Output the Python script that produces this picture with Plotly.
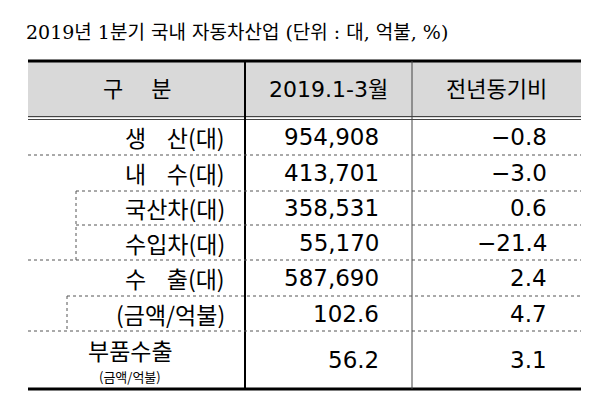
import plotly.graph_objects as go

title = "2019년 1분기 국내 자동차산업 (단위 : 대, 억불, %)"
headers = ["구    분", "2019.1-3월", "전년동기비"]
labels = ["생    산(대)", "내    수(대)", "국산차(대)", "수입차(대)", "수    출(대)", "(금액/억불)", "부품수출"]
values = ["954,908", "413,701", "358,531", "55,170", "587,690", "102.6", "56.2"]
changes = ["-0.8", "-3.0", "0.6", "-21.4", "2.4", "4.7", "3.1"]
# left edge of each row's dotted top line (indent for sub rows)
row_indent = [20, 20, 68, 68, 20, 59, 20]

FONT = "DejaVu Sans, Noto Sans CJK KR"
KFONT = "Noto Sans CJK KR"
L, C1, C2, R = 20, 237, 404, 573
TOP, HEAD = 53, 110
row_tops = [110, 147, 183, 217, 252, 288, 323]
BOTTOM = 381

fig = go.Figure()
shapes = []
ann = []

# header fill
shapes.append(dict(type="rect", x0=L, x1=R, y0=TOP, y1=HEAD, fillcolor="#d9d9d9", line=dict(width=0), layer="below"))
# top / bottom thick lines
shapes.append(dict(type="line", x0=L, x1=R, y0=TOP, y1=TOP, line=dict(color="black", width=3)))
shapes.append(dict(type="line", x0=L, x1=R, y0=BOTTOM, y1=BOTTOM, line=dict(color="black", width=3)))
# header double line
for y in (HEAD - 1.5, HEAD + 1.5):
    shapes.append(dict(type="line", x0=L, x1=R, y0=y, y1=y, line=dict(color="#444", width=1)))
# column dividers
shapes.append(dict(type="line", x0=C1, x1=C1, y0=TOP, y1=BOTTOM, line=dict(color="black", width=2)))
shapes.append(dict(type="line", x0=C2, x1=C2, y0=TOP, y1=BOTTOM, line=dict(color="#444", width=1)))
# dotted row lines
for i in range(1, len(row_tops)):
    shapes.append(dict(type="line", x0=row_indent[i], x1=R, y0=row_tops[i], y1=row_tops[i],
                       line=dict(color="#555", width=1, dash="dot")))
# dotted vertical indents
shapes.append(dict(type="line", x0=68, x1=68, y0=row_tops[2], y1=row_tops[4], line=dict(color="#555", width=1, dash="dot")))
shapes.append(dict(type="line", x0=59, x1=59, y0=row_tops[5], y1=row_tops[6], line=dict(color="#555", width=1, dash="dot")))

ann.append(dict(x=16, y=24, text=title, xanchor="left", font=dict(family="DejaVu Serif, " + KFONT, size=19)))
hx = [(L + C1) / 2, (C1 + C2) / 2, (C2 + R) / 2]
for x, h in zip(hx, headers):
    ann.append(dict(x=x, y=(TOP + HEAD) / 2, text=h, xanchor="center", font=dict(family=FONT, size=22)))

bottoms = row_tops[1:] + [BOTTOM]
for i, (lab, v, c) in enumerate(zip(labels, values, changes)):
    ym = (row_tops[i] + bottoms[i]) / 2
    if i == len(labels) - 1:
        ann.append(dict(x=122, y=ym - 10, text=lab, xanchor="center", font=dict(family=KFONT, size=23)))
        ann.append(dict(x=122, y=ym + 16, text="(금액/억불)", xanchor="center", font=dict(family=KFONT, size=13)))
    else:
        ann.append(dict(x=219, y=ym, text=lab, xanchor="right", font=dict(family=KFONT, size=23)))
    ann.append(dict(x=373, y=ym, text=v, xanchor="right", font=dict(family=FONT, size=23)))
    ann.append(dict(x=541, y=ym, text=c.replace("-", "−"), xanchor="right", font=dict(family=FONT, size=23)))

for a in ann:
    a.update(xref="x", yref="y", showarrow=False, yanchor="middle")
    a["font"]["color"] = "black"

fig.update_layout(
    width=600, height=402, margin=dict(l=0, r=0, t=0, b=0),
    plot_bgcolor="white", paper_bgcolor="white",
    shapes=shapes, annotations=ann,
    xaxis=dict(range=[0, 600], visible=False, fixedrange=True),
    yaxis=dict(range=[402, 0], visible=False, fixedrange=True),
    showlegend=False,
)
fig.write_html("out.html")
